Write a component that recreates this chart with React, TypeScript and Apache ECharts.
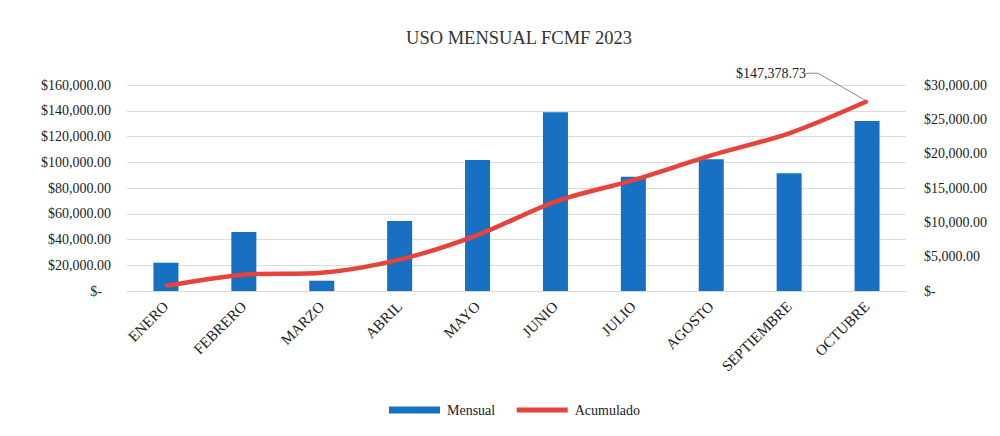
import React, { useEffect, useRef } from "react";
import * as echarts from "echarts";

const categories = ["ENERO", "FEBRERO", "MARZO", "ABRIL", "MAYO", "JUNIO", "JULIO", "AGOSTO", "SEPTIEMBRE", "OCTUBRE"];
const mensual = [4120, 8590, 1500, 10190, 19080, 26020, 16650, 19180, 17140, 24760];
const acumulado = [4120, 12710, 14210, 24400, 43480, 69500, 86150, 105330, 122470, 147378.73];
const leftTicks = { min: 0, max: 160000, interval: 20000 };
const rightTicks = { min: 0, max: 30000, interval: 5000 };

const FONT = "'Liberation Serif', 'Times New Roman', serif";
const RED = "#e5433b";
const TEXT = "#222";

function money(v: number): string {
  return "$" + v.toLocaleString("en-US", { minimumFractionDigits: 2, maximumFractionDigits: 2 });
}

export default function App() {
  const ref = useRef<HTMLDivElement>(null);
  useEffect(() => {
    if (!ref.current) return;
    const chart = echarts.init(ref.current, null, { renderer: "svg" });
    const last = acumulado.length - 1;
    chart.setOption({
      animation: false,
      backgroundColor: "#ffffff",
      title: {
        text: "USO MENSUAL FCMF 2023",
        left: 514,
        top: 23,
        textAlign: "center",
        textStyle: { fontFamily: FONT, fontSize: 18.5, fontWeight: "normal", color: "#333" },
      },
      legend: {
        bottom: 14,
        left: 384,
        itemWidth: 51,
        itemHeight: 7,
        itemGap: 19,
        textStyle: { fontFamily: FONT, fontSize: 14, color: TEXT, padding: [0, 0, 0, 2] },
        data: [
          { name: "Mensual", icon: "rect" },
          { name: "Acumulado", itemStyle: { opacity: 0 }, lineStyle: { width: 5, color: RED } },
        ],
      },
      grid: { left: 127, right: 94, top: 85, bottom: 145 },
      xAxis: {
        type: "category",
        data: categories,
        axisTick: { show: false },
        axisLine: { lineStyle: { color: "#d9d9d9" } },
        axisLabel: {
          rotate: 45,
          interval: 0,
          margin: 13,
          fontFamily: FONT,
          fontSize: 15,
          color: TEXT,
        },
      },
      yAxis: [
        {
          type: "value",
          ...leftTicks,
          axisLine: { show: false },
          axisTick: { show: false },
          splitLine: { lineStyle: { color: "#dcdcdc" } },
          axisLabel: {
            margin: 16,
            fontFamily: FONT,
            fontSize: 14,
            color: TEXT,
            formatter: (v: number) => (v === 0 ? "{z|$-}" : money(v)),
            rich: { z: { fontFamily: FONT, fontSize: 14, color: TEXT, padding: [0, 9, 0, 0] } },
          },
        },
        {
          type: "value",
          ...rightTicks,
          axisLine: { show: false },
          axisTick: { show: false },
          splitLine: { show: false },
          axisLabel: {
            margin: 18,
            fontFamily: FONT,
            fontSize: 14,
            color: TEXT,
            formatter: (v: number) => (v === 0 ? "$-" : money(v)),
          },
        },
      ],
      series: [
        {
          name: "Mensual",
          type: "bar",
          yAxisIndex: 1,
          data: mensual,
          barWidth: 25,
          itemStyle: { color: "#1770c2" },
        },
        {
          name: "Acumulado",
          type: "line",
          yAxisIndex: 0,
          smooth: 0.3,
          symbol: "circle",
          symbolSize: 2,
          showSymbol: true,
          lineStyle: { color: RED, width: 4.5 },
          itemStyle: { color: RED },
          label: { show: false },
          data: acumulado.map((v, i) =>
            i === last
              ? {
                  value: v,
                  label: {
                    show: true,
                    position: "top",
                    formatter: () => money(v),
                    fontFamily: FONT,
                    fontSize: 14,
                    color: TEXT,
                  },
                  labelLine: { show: true },
                }
              : v
          ),
          labelLayout: { dx: -96, dy: -15 },
          labelLine: { show: true, length2: 12, lineStyle: { color: "#8a8a8a", width: 1 } },
        },
      ],
    });
    return () => chart.dispose();
  }, []);
  return <div ref={ref} style={{ position: "absolute", left: 0, top: 0, width: 1000, height: 436 }} />;
}
